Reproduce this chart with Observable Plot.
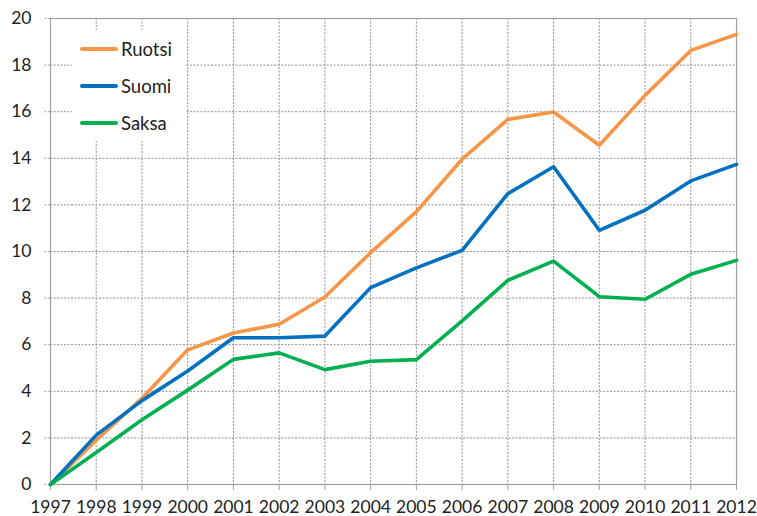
<!DOCTYPE html>
<html>
<head>
<meta charset="utf-8">
<script src="https://cdn.jsdelivr.net/npm/d3@7"></script>
<script src="https://cdn.jsdelivr.net/npm/@observablehq/plot@0.6"></script>
<style>
  html, body { margin: 0; padding: 0; background: #fff; }
  #wrap { position: relative; width: 757px; height: 516px; font-family: Lato, "Open Sans", sans-serif; }
  #legend { position: absolute; left: 72px; top: 30px; width: 113px; height: 111px; background: #fff; }
  .row { position: absolute; left: 8px; height: 20px; display: flex; align-items: center; font-size: 18.5px; color: #222; }
  .sw { width: 38px; height: 4px; margin-right: 3px; border-radius: 2px; }
</style>
</head>
<body>
<div id="wrap"></div>
<script>
const years = [1997,1998,1999,2000,2001,2002,2003,2004,2005,2006,2007,2008,2009,2010,2011,2012];
const seriesNames = ["Ruotsi", "Suomi", "Saksa"];
const seriesColors = ["#F79646", "#0070C0", "#00B050"];
const ruotsi = [0, 1.9, 3.7, 5.78, 6.5, 6.88, 8.05, 9.95, 11.71, 13.96, 15.67, 15.99, 14.56, 16.7, 18.63, 19.32];
const suomi  = [0, 2.12, 3.6, 4.87, 6.3, 6.3, 6.37, 8.45, 9.3, 10.05, 12.48, 13.64, 10.91, 11.77, 13.03, 13.74];
const saksa  = [0, 1.37, 2.78, 4.05, 5.37, 5.65, 4.93, 5.29, 5.36, 7.02, 8.76, 9.59, 8.06, 7.95, 9.02, 9.62];
const yTicks = [0, 2, 4, 6, 8, 10, 12, 14, 16, 18, 20];

const valuesBySeries = [ruotsi, suomi, saksa];
const data = [];
seriesNames.forEach((s, i) => years.forEach((y, j) => data.push({series: s, year: y, value: valuesBySeries[i][j]})));

const chart = Plot.plot({
  width: 757,
  height: 516,
  marginLeft: 50,
  marginRight: 21,
  marginTop: 18,
  marginBottom: 32,
  style: { fontFamily: "Lato, 'Open Sans', sans-serif", fontSize: "17.5px", color: "#222", background: "#fff" },
  x: { domain: [1997, 2012], ticks: years, tickFormat: d => String(d), tickSize: 6, tickPadding: 10, label: null },
  y: { domain: [0, 20], ticks: yTicks, tickSize: 7, tickPadding: 12, label: null },
  color: { domain: seriesNames, range: seriesColors },
  marks: [
    Plot.gridX(years, { stroke: "#909090", strokeOpacity: 1, strokeDasharray: "2,1.5", strokeWidth: 1 }),
    Plot.gridY(yTicks, { stroke: "#909090", strokeOpacity: 1, strokeDasharray: "2,1.5", strokeWidth: 1 }),
    Plot.frame({ stroke: "#a0a0a0", strokeWidth: 1.2 }),
    Plot.axisX({ ticks: years, tickFormat: d => String(d), tickSize: 6, tickPadding: 10, stroke: "#a0a0a0", fill: "#222", label: null }),
    Plot.axisY({ ticks: yTicks, tickSize: 7, tickPadding: 12, stroke: "#a0a0a0", strokeDasharray: "2,1.5", fill: "#222", label: null }),
    Plot.line(data, { x: "year", y: "value", z: "series", stroke: "series", strokeWidth: 3.6, strokeLinejoin: "round", strokeLinecap: "round" })
  ]
});

const wrap = document.getElementById("wrap");
wrap.appendChild(chart);

const legend = document.createElement("div");
legend.id = "legend";
seriesNames.forEach((s, i) => {
  const row = document.createElement("div");
  row.className = "row";
  row.style.top = (9 + i * 37) + "px";
  const sw = document.createElement("div");
  sw.className = "sw";
  sw.style.background = seriesColors[i];
  row.appendChild(sw);
  const t = document.createElement("span");
  t.textContent = s;
  row.appendChild(t);
  legend.appendChild(row);
});
wrap.appendChild(legend);
</script>
</body>
</html>
